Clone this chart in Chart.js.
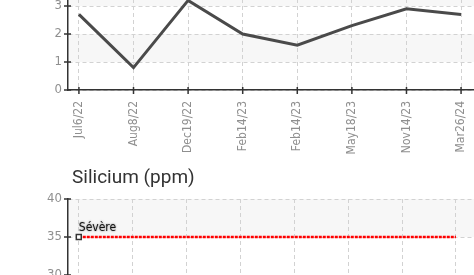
<!DOCTYPE html>
<html><head><meta charset="utf-8">
<script src="https://cdn.jsdelivr.net/npm/chart.js@4/dist/chart.umd.min.js"></script>
<style>
html,body{margin:0;padding:0;background:#fff;overflow:hidden}
#wrap{position:relative;width:474px;height:275px;overflow:hidden;background:#fff}
#c1{position:absolute;left:0;top:-60px;width:490px;height:230px}
#c2{position:absolute;left:0;top:189px;width:490px;height:394px}
#t2{position:absolute;left:72px;top:167px;font:19px Roboto, "Liberation Sans", sans-serif;color:#333;white-space:nowrap;line-height:1}
</style></head><body>
<div id="wrap">
<canvas id="c1" width="490" height="230"></canvas>
<div id="t2">Silicium (ppm)</div>
<canvas id="c2" width="490" height="394"></canvas>
</div>
<script>
// ---- data ----
const categories = ['Jul6/22','Aug8/22','Dec19/22','Feb14/23','Feb14/23','May18/23','Nov14/23','Mar26/24'];
const chart1Values = [2.7, 0.8, 3.2, 2.0, 1.6, 2.3, 2.9, 2.7];
const chart1YTicks = [0, 1, 2, 3, 4];
const chart2Title = 'Silicium (ppm)';
const severeLabel = 'Sévère';
const severeValues = [35, 35, 35, 35, 35, 35, 35, 35];
const chart2YTicks = [0, 5, 10, 15, 20, 25, 30, 35, 40];

const NARROW = '"DejaVu Sans Condensed", sans-serif';
document.getElementById('t2').textContent = chart2Title;

const bandPlugin = {
  id: 'bands',
  beforeDraw(chart) {
    const {ctx, chartArea: a, scales: {y}} = chart;
    const t = y.ticks.map(k => k.value);
    ctx.save();
    ctx.fillStyle = '#f7f7f7';
    for (let i = 0; i < t.length - 1; i++) {
      if (i % 2 === 1) {
        const y1 = y.getPixelForValue(t[i + 1]);
        const y2 = y.getPixelForValue(t[i]);
        ctx.fillRect(a.left, y1, a.right - a.left, y2 - y1);
      }
    }
    ctx.restore();
  }
};

const crossTicks = {
  id: 'crossTicks',
  afterDraw(chart) {
    const {ctx, chartArea: a, scales: {x, y}} = chart;
    ctx.save();
    ctx.strokeStyle = '#333';
    ctx.lineWidth = 1.5;
    ctx.beginPath();
    y.ticks.forEach(t => {
      const py = y.getPixelForValue(t.value);
      ctx.moveTo(a.left - 4, py); ctx.lineTo(a.left + 3, py);
    });
    x.ticks.forEach(t => {
      const px = x.getPixelForValue(t.value);
      ctx.moveTo(px, a.bottom - 3); ctx.lineTo(px, a.bottom + 4);
    });
    ctx.stroke();
    ctx.restore();
  }
};

const severeText = {
  id: 'severeText',
  afterDatasetsDraw(chart) {
    const meta = chart.getDatasetMeta(0);
    const p = meta.data[0];
    if (!p) return;
    const ctx = chart.ctx;
    ctx.save();
    ctx.font = '12px ' + NARROW;
    ctx.fillStyle = '#111';
    ctx.shadowColor = 'rgba(0,0,0,0.55)';
    ctx.shadowBlur = 2;
    ctx.textAlign = 'left';
    ctx.textBaseline = 'alphabetic';
    ctx.fillText(severeLabel, p.x, p.y - 6);
    ctx.restore();
  }
};

function xScale() {
  return {
    type: 'linear', min: -0.2, max: 7.53,
    afterBuildTicks: s => { s.ticks = categories.map((_, i) => ({value: i})); },
    afterFit: s => { s.height = 80; },
    ticks: {
      autoSkip: false, minRotation: 90, maxRotation: 90, padding: 7,
      color: '#8f8f8f', font: {family: NARROW, size: 12},
      callback: v => categories[v]
    },
    grid: {color: '#d2d2d2', lineWidth: 1, drawTicks: true, tickLength: 4, tickColor: 'rgba(0,0,0,0)'},
    border: {display: true, color: '#333', width: 1.5, dash: [4, 3]}
  };
}
function yScale(min, max, tickArr) {
  return {
    min, max,
    afterBuildTicks: s => { s.ticks = tickArr.map(v => ({value: v})); },
    afterFit: s => { s.width = 68; },
    ticks: {padding: 2, color: '#8f8f8f', font: {family: NARROW, size: 13}},
    grid: {color: '#d2d2d2', lineWidth: 1, drawTicks: true, tickLength: 4, tickColor: 'rgba(0,0,0,0)'},
    border: {display: true, color: '#333', width: 1.5, dash: [4, 3]}
  };
}

new Chart(document.getElementById('c1'), {
  type: 'line',
  data: {
    datasets: [{
      data: chart1Values.map((v, i) => ({x: i, y: v})),
      borderColor: '#4a4a4a', borderWidth: 3, pointRadius: 0, tension: 0, fill: false
    }]
  },
  options: {
    responsive: false, animation: false,
    layout: {padding: {top: 38, left: 0, right: 0, bottom: 0}},
    plugins: {legend: {display: false}, tooltip: {enabled: false}, title: {display: false}},
    scales: {x: xScale(), y: yScale(0, 4, chart1YTicks)}
  },
  plugins: [bandPlugin, crossTicks]
});

new Chart(document.getElementById('c2'), {
  type: 'line',
  data: {
    datasets: [{
      label: severeLabel,
      data: severeValues.map((v, i) => ({x: i, y: v})),
      borderColor: '#ff0000', borderWidth: 2.5, borderDash: [3, 1],
      pointRadius: c => c.dataIndex === 0 ? 3.5 : 0,
      pointStyle: 'rect', pointBackgroundColor: '#fff', pointBorderColor: '#333', pointBorderWidth: 1.5,
      tension: 0, fill: false
    }]
  },
  options: {
    responsive: false, animation: false,
    layout: {padding: {top: 10, left: 0, right: 0, bottom: 0}},
    plugins: {legend: {display: false}, tooltip: {enabled: false}, title: {display: false}},
    scales: {x: xScale(), y: yScale(0, 40, chart2YTicks)}
  },
  plugins: [bandPlugin, crossTicks, severeText]
});
</script>
</body></html>
